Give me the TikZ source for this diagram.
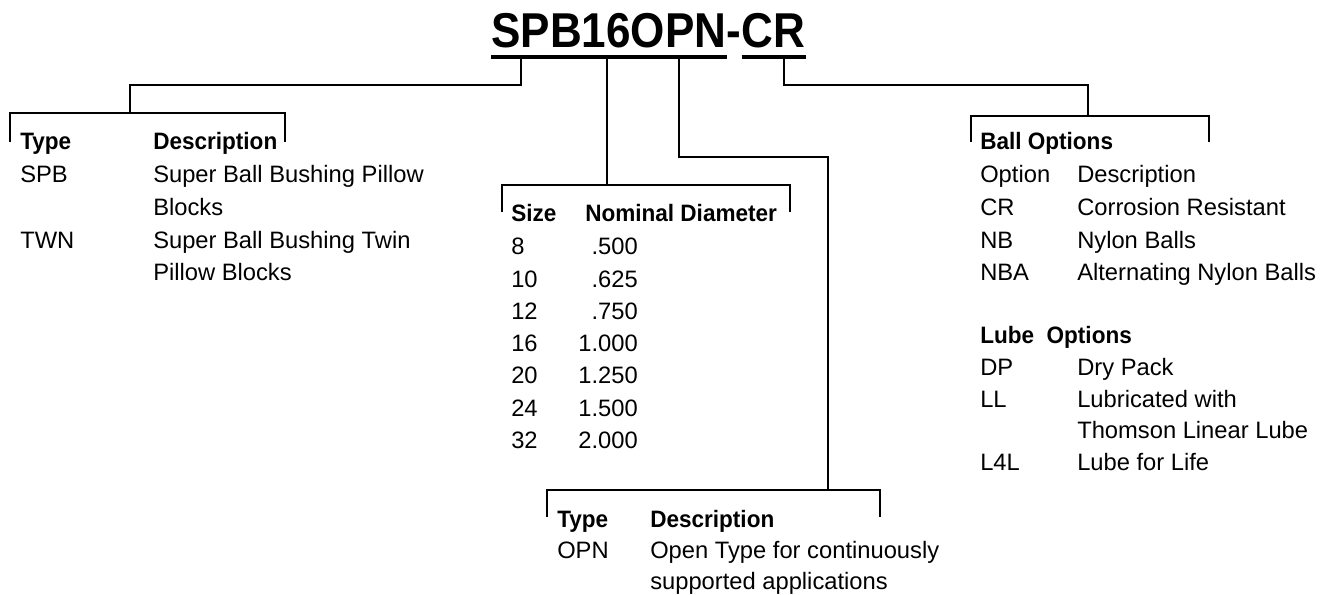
\documentclass[tikz,border=0pt]{standalone}
\usepackage{fontspec}
\setmainfont{Liberation Sans}[BoldFeatures={FakeStretch=0.95}]
\newfontfamily\titlefont{Liberation Sans}[FakeStretch=0.9]

\tikzset{
  code/.style={font=\titlefont\fontsize{36.7}{40}\selectfont\bfseries, inner sep=0, anchor=base west},
  head/.style={font=\fontsize{17.8}{22}\selectfont\bfseries, inner sep=0, anchor=base west},
  cell/.style={font=\fontsize{17.8}{22}\selectfont, inner sep=0, anchor=base west},
  wire/.style={line width=1.7pt},
  uline/.style={line width=2.3pt},
}

\begin{document}
\begin{tikzpicture}[x=0.75pt,y=-0.75pt]
\useasboundingbox (0,0) rectangle (1338,595);

% part number
\node[code] (code) at (491,48) {SPB16OPN};
\node[code] (dash) at (code.base east) {-};
\node[code] (opt) at (dash.base east) {CR};
\coordinate (ul) at (0,57);
\draw[uline] (code.west |- ul) -- (code.east |- ul);
\draw[uline] (opt.west |- ul) -- (opt.east |- ul);

\coordinate (tapA) at (521,57);
\coordinate (tapB) at (607,57);
\coordinate (tapC) at (679,57);
\coordinate (tapD) at (784,57);
\coordinate (rowA) at (0,85);
\coordinate (rowC) at (0,157);
\coordinate (brA) at (130,113);
\coordinate (brB) at (607,185);
\coordinate (brC) at (828,490);
\coordinate (brD) at (1088,116);

\draw[wire] (tapA) -- (tapA |- rowA) -| (brA);
\draw[wire] (tapB) -- (brB);
\draw[wire] (tapC) -- (tapC |- rowC) -| (brC);
\draw[wire] (tapD) -- (tapD |- rowA) -| (brD);

% brackets
\draw[wire] (10,142) |- (285,113) -- (285,142);
\draw[wire] (502,212) |- (790,185) -- (790,212);
\draw[wire] (547,517) |- (880,490) -- (880,517);
\draw[wire] (971,142) |- (1209,116) -- (1209,142);

% type
\node[head] (typeA) at (20,150) {Type};
\node[head] (descA) at (153,150) {Description};
\node[cell] (spb) at (20,183) {SPB};
\node[cell] (spbD) at (153,183) {Super Ball Bushing Pillow};
\node[cell] (spbE) at (153,215.5) {Blocks};
\node[cell] (twn) at (20,248) {TWN};
\node[cell] (twnD) at (153,248) {Super Ball Bushing Twin};
\node[cell] (twnE) at (153,280.5) {Pillow Blocks};

% size
\node[head] (size) at (511,222) {Size};
\node[head] (dia) at (585,222) {Nominal Diameter};
\node[cell] (s8) at (511,255) {8};
\node[cell, anchor=base east] (d8) at (638,255) {.500};
\node[cell] (s10) at (511,287.2) {10};
\node[cell, anchor=base east] (d10) at (638,287.2) {.625};
\node[cell] (s12) at (511,319.4) {12};
\node[cell, anchor=base east] (d12) at (638,319.4) {.750};
\node[cell] (s16) at (511,351.6) {16};
\node[cell, anchor=base east] (d16) at (638,351.6) {1.000};
\node[cell] (s20) at (511,383.8) {20};
\node[cell, anchor=base east] (d20) at (638,383.8) {1.250};
\node[cell] (s24) at (511,416) {24};
\node[cell, anchor=base east] (d24) at (638,416) {1.500};
\node[cell] (s32) at (511,448.2) {32};
\node[cell, anchor=base east] (d32) at (638,448.2) {2.000};

% open type
\node[head] (typeB) at (557,527) {Type};
\node[head] (descB) at (650,527) {Description};
\node[cell] (opn) at (557,558) {OPN};
\node[cell] (opnD) at (650,558) {Open Type for continuously};
\node[cell] (opnE) at (650,589) {supported applications};

% options
\node[head] (ball) at (980,150) {Ball Options};
\node[cell] (optH) at (980,183) {Option};
\node[cell] (optD) at (1077,183) {Description};
\node[cell] (cr) at (980,215.5) {CR};
\node[cell] (crD) at (1077,215.5) {Corrosion Resistant};
\node[cell] (nb) at (980,248) {NB};
\node[cell] (nbD) at (1077,248) {Nylon Balls};
\node[cell] (nba) at (980,280.5) {NBA};
\node[cell] (nbaD) at (1077,280.5) {Alternating Nylon Balls};
\node[head] (lube) at (980,343) {Lube\ \ Options};
\node[cell] (dp) at (980,375) {DP};
\node[cell] (dpD) at (1077,375) {Dry Pack};
\node[cell] (ll) at (980,407) {LL};
\node[cell] (llD) at (1077,407) {Lubricated with};
\node[cell] (llE) at (1077,438.5) {Thomson Linear Lube};
\node[cell] (l4l) at (980,470) {L4L};
\node[cell] (l4lD) at (1077,470) {Lube for Life};
\end{tikzpicture}
\end{document}
